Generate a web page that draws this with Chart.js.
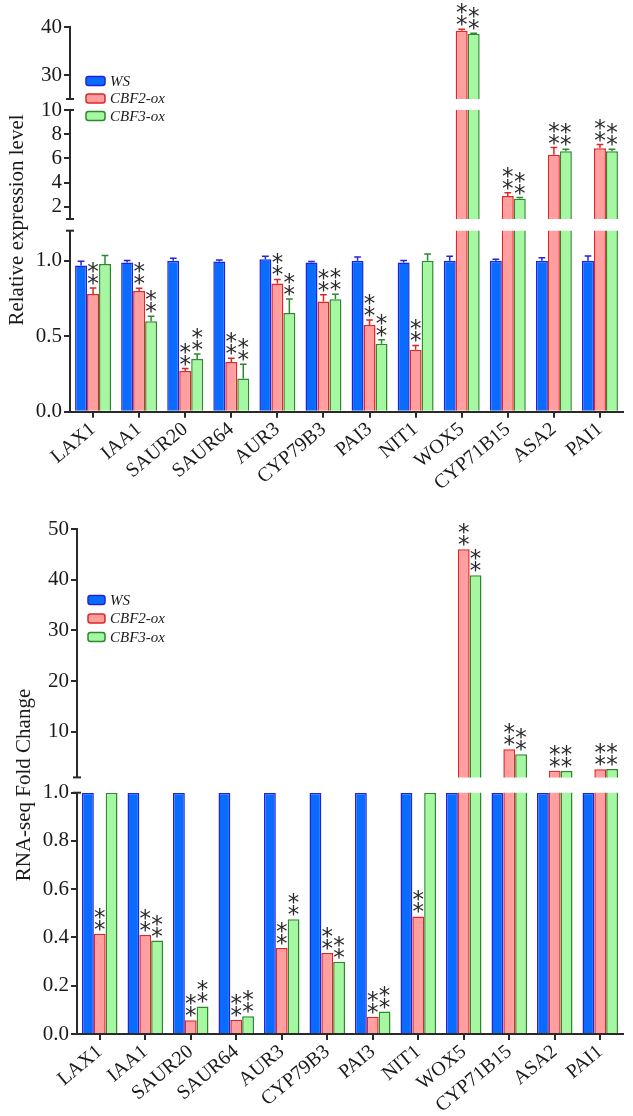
<!DOCTYPE html>
<html>
<head>
<meta charset="utf-8">
<script src="https://cdn.jsdelivr.net/npm/chart.js@4.4.1/dist/chart.umd.min.js"></script>
<style>
  body { margin: 0; background: #fff; overflow: hidden; }
  canvas { position: absolute; left: 0; }
  #qpcr { top: 0; }
  #rnaseq { top: 500px; }
</style>
</head>
<body>
<canvas id="qpcr" width="633" height="500"></canvas>
<canvas id="rnaseq" width="633" height="616"></canvas>
<script>
// genes and lines
const genes = ['LAX1', 'IAA1', 'SAUR20', 'SAUR64', 'AUR3', 'CYP79B3', 'PAI3', 'NIT1', 'WOX5', 'CYP71B15', 'ASA2', 'PAI1'];
const seriesNames = ['WS', 'CBF2-ox', 'CBF3-ox'];

// top panel: qRT-PCR relative expression (mean + SD)
const qpcrWS   = [0.97, 0.99, 1.00, 0.995, 1.01, 0.99, 1.00, 0.99, 1.00, 1.00, 1.00, 1.00];
const qpcrCBF2 = [0.78, 0.80, 0.27, 0.33, 0.85, 0.73, 0.575, 0.41, 39.2, 2.9, 6.3, 6.85];
const qpcrCBF3 = [0.98, 0.60, 0.35, 0.22, 0.655, 0.745, 0.45, 1.00, 38.6, 2.67, 6.6, 6.6];
const qpcrErrWS   = [0.027, 0.013, 0.018, 0.01, 0.02, 0.005, 0.025, 0.013, 0.031, 0.01, 0.02, 0.033];
const qpcrErrCBF2 = [0.04, 0.018, 0.016, 0.025, 0.027, 0.045, 0.033, 0.029, 0.35, 0.27, 0.6, 0.3];
const qpcrErrCBF3 = [0.055, 0.033, 0.033, 0.095, 0.093, 0.033, 0.027, 0.045, 0.1, 0.1, 0.16, 0.16];
const qpcrStarsCBF2 = [1, 1, 1, 1, 1, 1, 1, 1, 1, 1, 1, 1];
const qpcrStarsCBF3 = [0, 1, 1, 1, 1, 1, 1, 0, 1, 1, 1, 1];
const qpcrUpperTicks = [30, 40];
const qpcrMiddleTicks = [2, 4, 6, 8, 10];
const qpcrLowerTicks = [0, 0.5, 1.0];

// bottom panel: RNA-seq fold change
const seqWS   = [1, 1, 1, 1, 1, 1, 1, 1, 1, 1, 1, 1];
const seqCBF2 = [0.415, 0.41, 0.057, 0.059, 0.356, 0.336, 0.071, 0.487, 46.0, 6.55, 2.33, 2.6];
const seqCBF3 = [1.0, 0.387, 0.114, 0.074, 0.476, 0.299, 0.093, 1.0, 40.9, 5.55, 2.25, 2.65];
const seqStarsCBF2 = [1, 1, 1, 1, 1, 1, 1, 1, 1, 1, 1, 1];
const seqStarsCBF3 = [0, 1, 1, 1, 1, 1, 1, 0, 1, 1, 1, 1];
const seqUpperTicks = [10, 20, 30, 40, 50];
const seqLowerTicks = [0, 0.2, 0.4, 0.6, 0.8, 1.0];

const fills = ['#0a6cff', '#ff9f9f', '#a5f7a2'];
const lines = ['#2222dd', '#e32424', '#2b8a2b'];
const axisColor = '#2a2a2a';
const textColor = '#1a1a1a';
const serif = '"Liberation Serif", "Times New Roman", serif';

// draws error bars, ** marks, axis break caps, legend and y title
const brokenAxis = {
  id: 'brokenAxis',
  afterDatasetsDraw(chart, args, o) {
    const ctx = chart.ctx;
    const lowFirst = o.segments.slice().reverse();
    const lowestIdx = o.segments.length - 1;
    ctx.save();
    o.series.forEach((s, k) => {
      s.values.forEach((v, i) => {
        const seg = lowFirst.find(g => v <= g.max) || o.segments[0];
        const scale = chart.scales[seg.id];
        const bar = chart.getDatasetMeta(lowestIdx * 3 + k).data[i];
        const x = bar.x;
        let top = scale.getPixelForValue(v);
        const e = s.errors ? s.errors[i] : 0;
        if (e) {
          const yE = scale.getPixelForValue(v + e);
          const half = bar.width * 0.28;
          ctx.strokeStyle = lines[k];
          ctx.lineWidth = 1.5;
          ctx.beginPath();
          ctx.moveTo(x, top); ctx.lineTo(x, yE);
          ctx.moveTo(x - half, yE); ctx.lineTo(x + half, yE);
          ctx.stroke();
          top = yE;
        }
        if (s.stars && s.stars[i]) {
          ctx.fillStyle = '#2a2a2a';
          ctx.font = '23px "DejaVu Sans"';
          ctx.textAlign = 'center';
          ctx.textBaseline = 'alphabetic';
          ctx.fillText('*', x, top - 9 + 12);
          ctx.fillText('*', x, top - 21 + 12);
        }
      });
    });
    ctx.restore();
  },
  afterDraw(chart, args, o) {
    const ctx = chart.ctx;
    ctx.save();
    // caps where the axis is broken
    ctx.strokeStyle = axisColor;
    ctx.lineWidth = 2;
    o.segments.forEach((seg, i) => {
      const sc = chart.scales[seg.id];
      const x = sc.right;
      ctx.beginPath();
      if (i > 0) { ctx.moveTo(x - 4, sc.top); ctx.lineTo(x + 4, sc.top); }
      if (i < o.segments.length - 1) { ctx.moveTo(x - 4, sc.bottom); ctx.lineTo(x + 4, sc.bottom); }
      ctx.stroke();
    });
    // legend
    const L = o.legend;
    seriesNames.forEach((name, k) => {
      const cy = L.y + k * L.pitch;
      ctx.fillStyle = fills[k];
      ctx.strokeStyle = lines[k];
      ctx.lineWidth = 1.5;
      ctx.beginPath();
      ctx.roundRect(L.x, cy - 4.5, L.w, 9, 2.5);
      ctx.fill();
      ctx.stroke();
      ctx.fillStyle = textColor;
      ctx.font = 'italic 15px ' + serif;
      ctx.textAlign = 'left';
      ctx.textBaseline = 'middle';
      ctx.fillText(name, L.x + L.w + 5, cy + 1);
    });
    // y title spanning all segments
    ctx.translate(o.title.x, o.title.y);
    ctx.rotate(-Math.PI / 2);
    ctx.fillStyle = textColor;
    ctx.font = '21px ' + serif;
    ctx.textAlign = 'center';
    ctx.textBaseline = 'middle';
    ctx.fillText(o.title.text, 0, 0);
    ctx.restore();
  }
};

function makeChart(canvasId, cfg) {
  const datasets = [];
  cfg.segments.forEach((seg, si) => {
    const below = si < cfg.segments.length - 1 ? cfg.segments[si + 1].max : -Infinity;
    cfg.series.forEach((s, k) => {
      datasets.push({
        label: seriesNames[k],
        data: s.values.map(v => (v > below ? v : null)),
        yAxisID: seg.id,
        stack: 'g' + k,
        backgroundColor: fills[k],
        borderColor: lines[k],
        borderWidth: 1.5,
        borderSkipped: 'bottom',
        clip: 0,
        categoryPercentage: 0.78,
        barPercentage: 1
      });
    });
  });

  const scales = {
    x: {
      type: 'category',
      offset: true,
      grid: { display: true, drawOnChartArea: false, offset: false, tickLength: 6, color: axisColor, lineWidth: 2 },
      border: { display: true, color: axisColor, width: 2 },
      ticks: { minRotation: 40, maxRotation: 40, autoSkip: false, padding: 0, color: textColor, font: { family: serif, size: 20 } },
      afterFit: s => { s.height = cfg.xHeight; }
    }
  };
  // segments and gaps stacked top to bottom
  const order = [];
  cfg.segments.forEach((seg, i) => {
    if (i > 0) order.push({ id: 'gap' + i, gap: true, px: cfg.gaps[i - 1] });
    order.push(seg);
  });
  order.forEach((item, j) => {
    scales[item.id] = {
      type: 'linear',
      position: 'left',
      stack: 'broken',
      stackWeight: item.px,
      weight: order.length - j,
      stacked: false,
      display: !item.gap,
      min: item.gap ? 0 : item.min,
      max: item.gap ? 1 : item.max,
      grid: { display: true, drawOnChartArea: false, tickLength: 6, color: axisColor, lineWidth: 2 },
      border: { display: true, color: axisColor, width: 2 },
      ticks: {
        autoSkip: false,
        color: textColor,
        padding: 2,
        font: { family: serif, size: 21 },
        callback: v => v.toFixed(item.digits || 0)
      },
      afterBuildTicks: item.gap ? undefined : (s => { s.ticks = item.ticks.map(v => ({ value: v })); }),
      afterFit: s => { s.width = cfg.yWidth; }
    };
  });

  return new Chart(document.getElementById(canvasId), {
    type: 'bar',
    data: { labels: genes, datasets },
    options: {
      responsive: false,
      devicePixelRatio: 1,
      animation: false,
      layout: { padding: cfg.padding },
      scales,
      plugins: {
        legend: { display: false },
        tooltip: { enabled: false },
        brokenAxis: {
          segments: cfg.segments,
          series: cfg.series,
          legend: cfg.legend,
          title: cfg.title
        }
      }
    },
    plugins: [brokenAxis]
  });
}

makeChart('qpcr', {
  segments: [
    { id: 'yUpper', min: 25, max: 40, ticks: qpcrUpperTicks, px: 72, digits: 0 },
    { id: 'yMiddle', min: 1, max: 10, ticks: qpcrMiddleTicks, px: 109, digits: 0 },
    { id: 'yLower', min: 0, max: 1.2, ticks: qpcrLowerTicks, px: 181, digits: 1 }
  ],
  gaps: [11, 11.7],
  series: [
    { values: qpcrWS, errors: qpcrErrWS },
    { values: qpcrCBF2, errors: qpcrErrCBF2, stars: qpcrStarsCBF2 },
    { values: qpcrCBF3, errors: qpcrErrCBF3, stars: qpcrStarsCBF3 }
  ],
  padding: { top: 27, right: 10, bottom: 0, left: 0 },
  yWidth: 70,
  xHeight: 88.3,
  legend: { x: 86, y: 81, pitch: 17.5, w: 19 },
  title: { x: 17, y: 220, text: 'Relative expression level' }
});

makeChart('rnaseq', {
  segments: [
    { id: 'yUpper', min: 1, max: 50, ticks: seqUpperTicks, px: 248.4, digits: 0 },
    { id: 'yLower', min: 0, max: 1, ticks: seqLowerTicks, px: 241.3, digits: 1 }
  ],
  gaps: [15.3],
  series: [
    { values: seqWS },
    { values: seqCBF2, stars: seqStarsCBF2 },
    { values: seqCBF3, stars: seqStarsCBF3 }
  ],
  padding: { top: 29, right: 10, bottom: 0, left: 0 },
  yWidth: 77,
  xHeight: 82,
  legend: { x: 88, y: 100, pitch: 18.5, w: 17 },
  title: { x: 24, y: 285, text: 'RNA-seq Fold Change' }
});
</script>
</body>
</html>
